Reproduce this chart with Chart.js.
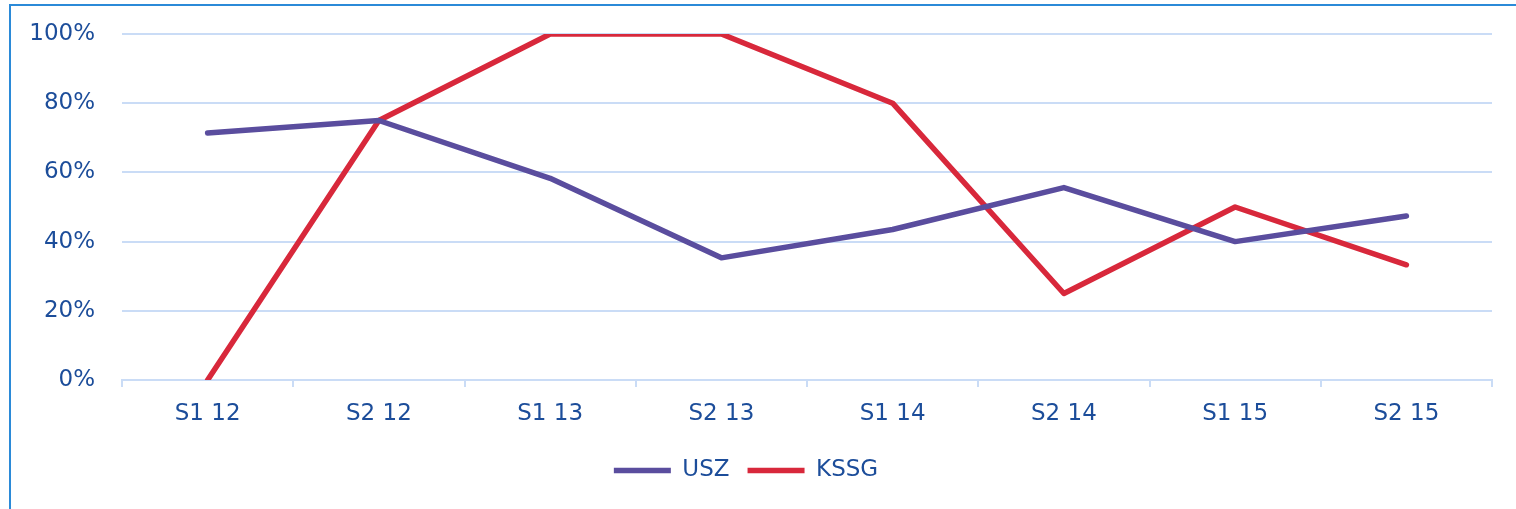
<!DOCTYPE html>
<html>
<head>
<meta charset="utf-8">
<script src="https://cdn.jsdelivr.net/npm/chart.js@4"></script>
<style>
  html, body { margin: 0; padding: 0; background: #fff; }
  #wrap { position: relative; width: 1516px; height: 509px; overflow: hidden; }
  #frame { position: absolute; left: 9px; top: 4px; width: 1600px; height: 600px;
           border-left: 2px solid #2b8ad8; border-top: 2px solid #2b8ad8; }
  #myChart { position: absolute; left: 0; top: 0; }
</style>
</head>
<body>
<div id="wrap">
  <div id="frame"></div>
  <canvas id="myChart" width="1516" height="509"></canvas>
</div>
<script>
const ctx = document.getElementById('myChart').getContext('2d');

// datos
const semestres = ["S1 12", "S2 12", "S1 13", "S2 13", "S1 14", "S2 14", "S1 15", "S2 15"];
const valoresUSZ = [71.4, 75, 58.3, 35.3, 43.5, 55.6, 40, 47.4];
const valoresKSSG = [0, 75, 100, 100, 80, 25, 50, 33.3];
const ticksY = [0, 20, 40, 60, 80, 100];

const azulTexto = '#1c4d9a';
const azulGrid = '#cadcf6';
const fuente = { family: 'DejaVu Sans', size: 23 };

let myChart = new Chart(ctx, {
    type: 'line',
    data: {
        labels: semestres,
        datasets: [{
            label: 'USZ',
            data: valoresUSZ,
            borderColor: '#5a4d9e',
            backgroundColor: '#5a4d9e',
            borderWidth: 5.5,
            borderCapStyle: 'round',
            borderJoinStyle: 'round',
            pointRadius: 0,
            tension: 0
        }, {
            label: 'KSSG',
            data: valoresKSSG,
            borderColor: '#d8283b',
            backgroundColor: '#d8283b',
            borderWidth: 5.5,
            borderCapStyle: 'round',
            borderJoinStyle: 'round',
            pointRadius: 0,
            tension: 0
        }]
    },
    options: {
        responsive: false,
        animation: false,
        layout: { padding: { top: 34, right: 24, left: 0, bottom: 17 } },
        plugins: {
            tooltip: { enabled: false },
            legend: {
                position: 'bottom',
                labels: {
                    font: fuente,
                    color: azulTexto,
                    usePointStyle: true,
                    pointStyle: 'line',
                    pointStyleWidth: 57,
                    boxWidth: 57,
                    boxHeight: 4,
                    padding: 18
                }
            }
        },
        scales: {
            x: {
                offset: true,
                afterFit: (scale) => { scale.height = 61; scale.paddingLeft = 0; scale.paddingRight = 0; },
                grid: {
                    offset: true,
                    drawOnChartArea: false,
                    drawTicks: true,
                    tickLength: 7,
                    color: azulGrid,
                    lineWidth: 2
                },
                border: { display: true, color: azulGrid, width: 2 },
                ticks: { font: fuente, color: azulTexto, padding: 13, maxRotation: 0 }
            },
            y: {
                min: 0,
                max: 100,
                afterFit: (scale) => { scale.width = 122; scale.paddingTop = 0; scale.paddingBottom = 0; },
                afterBuildTicks: (scale) => { scale.ticks = ticksY.map(v => ({ value: v })); },
                grid: { color: azulGrid, lineWidth: 2, drawTicks: false },
                border: { display: false },
                ticks: {
                    font: fuente,
                    color: azulTexto,
                    padding: 27,
                    callback: (v) => v + '%'
                }
            }
        }
    }
});
</script>
</body>
</html>
